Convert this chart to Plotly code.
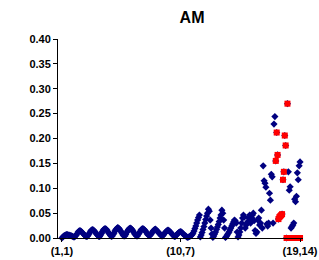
import plotly.graph_objects as go

# categories: pairs (i, j), i = 1..19, j = 1..14
i_vals = list(range(1, 20))
j_vals = list(range(1, 15))
categories = [f"({i},{j})" for i in i_vals for j in j_vals]

tick_labels = ["(1,1)", "(10,7)", "(19,14)"]
y_ticks = [0, 0.05, 0.1, 0.15, 0.2, 0.25, 0.3, 0.35, 0.4]

# blue series (one row of 14 per i)
blue_b0 = [0.000, 0.002, 0.004, 0.005, 0.006, 0.007, 0.007, 0.006, 0.006, 0.005, 0.005, 0.004, 0.003, 0.002]
blue_b1 = [0.002, 0.004, 0.006, 0.009, 0.012, 0.014, 0.015, 0.014, 0.012, 0.010, 0.008, 0.006, 0.004, 0.003]
blue_b2 = [0.003, 0.005, 0.008, 0.011, 0.014, 0.016, 0.017, 0.016, 0.014, 0.012, 0.009, 0.007, 0.005, 0.003]
blue_b3 = [0.003, 0.006, 0.009, 0.013, 0.016, 0.018, 0.019, 0.018, 0.016, 0.013, 0.010, 0.008, 0.005, 0.003]
blue_b4 = [0.004, 0.007, 0.010, 0.014, 0.017, 0.019, 0.021, 0.020, 0.018, 0.015, 0.012, 0.009, 0.006, 0.004]
blue_b5 = [0.004, 0.007, 0.011, 0.014, 0.017, 0.019, 0.020, 0.019, 0.017, 0.014, 0.011, 0.008, 0.006, 0.004]
blue_b6 = [0.004, 0.007, 0.010, 0.013, 0.016, 0.018, 0.019, 0.018, 0.016, 0.014, 0.011, 0.008, 0.006, 0.005]
blue_b7 = [0.005, 0.007, 0.010, 0.013, 0.015, 0.017, 0.018, 0.016, 0.014, 0.012, 0.010, 0.008, 0.006, 0.004]
blue_b8 = [0.004, 0.006, 0.009, 0.011, 0.013, 0.015, 0.016, 0.015, 0.013, 0.011, 0.009, 0.007, 0.005, 0.003]
blue_b9 = [0.003, 0.005, 0.007, 0.009, 0.011, 0.012, 0.013, 0.012, 0.010, 0.008, 0.006, 0.005, 0.004, 0.002]
blue_b10 = [0.001, 0.002, 0.003, 0.004, 0.005, 0.007, 0.010, 0.014, 0.019, 0.024, 0.030, 0.036, 0.041, 0.046]
blue_b11 = [0.002, 0.006, 0.011, 0.017, 0.023, 0.030, 0.037, 0.044, 0.050, 0.058, 0.054, 0.036, 0.020, 0.008]
blue_b12 = [0.001, 0.004, 0.008, 0.012, 0.017, 0.022, 0.027, 0.033, 0.040, 0.046, 0.056, 0.050, 0.036, 0.020]
blue_b13 = [0.001, 0.003, 0.006, 0.009, 0.012, 0.016, 0.020, 0.024, 0.028, 0.032, 0.036, 0.034, 0.030, 0.012]
blue_b14 = [0.002, 0.006, 0.012, 0.020, 0.030, 0.040, 0.046, 0.042, 0.020, 0.026, 0.030, 0.033, 0.040, 0.046]
blue_b15 = [0.030, 0.040, 0.046, 0.050, 0.035, 0.015, 0.009, 0.012, 0.036, 0.040, 0.026, 0.030, 0.056, 0.020]
blue_b16 = [0.145, 0.115, 0.110, 0.102, 0.028, 0.024, 0.030, 0.090, 0.076, 0.128, 0.123, 0.030, 0.229, 0.244]
blue_b17 = [0.155, 0.212, 0.167, 0.038, 0.042, 0.044, 0.046, 0.048, 0.117, 0.133, 0.206, 0.186, 0.000, 0.270]
blue_b18 = [0.133, 0.096, 0.103, 0.020, 0.023, 0.026, 0.030, 0.078, 0.073, 0.084, 0.131, 0.117, 0.145, 0.153]

blue_values = (blue_b0 + blue_b1 + blue_b2 + blue_b3 + blue_b4 + blue_b5 + blue_b6
               + blue_b7 + blue_b8 + blue_b9 + blue_b10 + blue_b11 + blue_b12
               + blue_b13 + blue_b14 + blue_b15 + blue_b16 + blue_b17 + blue_b18)

# red series (only defined for i = 18, 19)
red_categories = [f"({i},{j})" for i in (18, 19) for j in j_vals]
red_b17 = [0.155, 0.212, 0.167, 0.038, 0.042, 0.044, 0.046, 0.048, 0.117, 0.133, 0.206, 0.186, 0.000, 0.270]
red_b18 = [0.000] * 14
red_values = red_b17 + red_b18

idx = {c: n for n, c in enumerate(categories)}
x_blue = [idx[c] for c in categories]
x_red = [idx[c] for c in red_categories]

fig = go.Figure()
fig.add_trace(go.Scatter(
    x=x_blue, y=blue_values, mode="markers",
    marker=dict(symbol="diamond", size=5.5, color="#000080", line=dict(width=0)),
    text=categories, hoverinfo="text+y", showlegend=False, cliponaxis=False))
fig.add_trace(go.Scatter(
    x=x_red, y=red_values, mode="markers",
    marker=dict(symbol="square", size=6, color="#FF0000", line=dict(width=0)),
    text=red_categories, hoverinfo="text+y", showlegend=False, cliponaxis=False))

fig.update_layout(
    width=319, height=260,
    margin=dict(l=58, r=16, t=39, b=22, autoexpand=False),
    paper_bgcolor="white", plot_bgcolor="white",
    font=dict(family="Liberation Sans, Arial", size=11, color="black"),
    title=dict(text="<b>AM</b>", x=0.602, xanchor="center", y=0.935, yanchor="middle",
               font=dict(size=16, color="black")),
    xaxis=dict(range=[-4.4, 268.3], showgrid=False, zeroline=False, automargin=False,
               showline=True, linecolor="black", linewidth=1,
               tickmode="array",
               tickvals=[idx[t] for t in tick_labels], ticktext=[f"<b>{t}</b>" for t in tick_labels],
               ticks="outside", ticklen=3, tickcolor="black",
               tickfont=dict(size=11)),
    yaxis=dict(range=[0, 0.4], showgrid=False, zeroline=False, automargin=False,
               showline=True, linecolor="black", linewidth=1,
               tickmode="array",
               tickvals=y_ticks,
               ticktext=["<b>%.2f</b>" % v for v in y_ticks],
               ticks="outside", ticklen=4, tickcolor="black",
               tickfont=dict(size=11)),
)

fig.write_html("out.html", config={"displayModeBar": False},
               post_script="document.body.style.margin='0';document.body.style.overflow='hidden';")
